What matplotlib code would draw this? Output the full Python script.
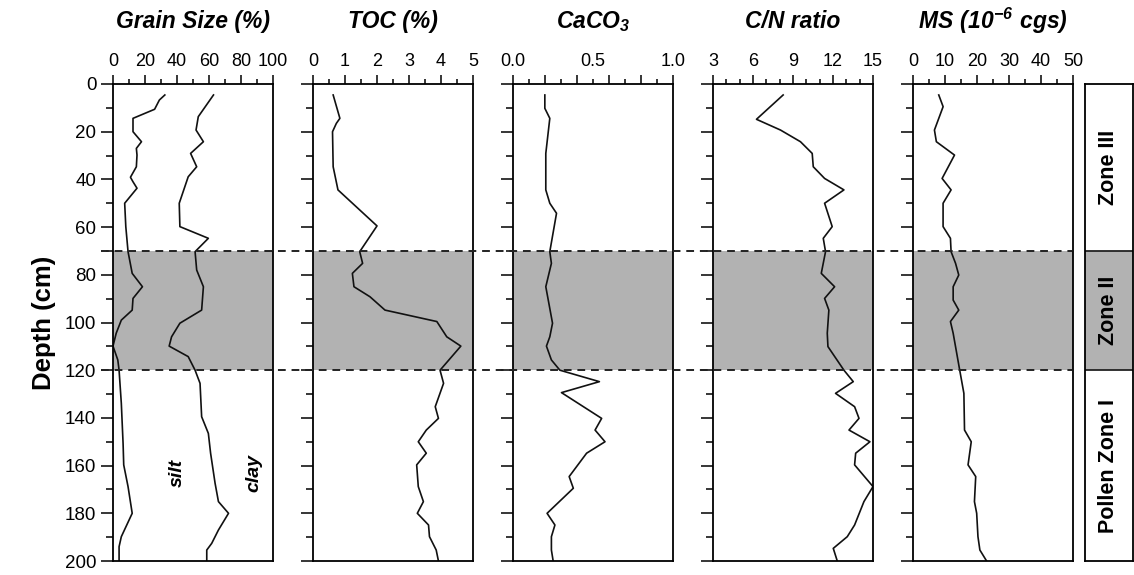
import matplotlib
matplotlib.use("Agg")
import matplotlib.pyplot as plt
import matplotlib.transforms as mtrans
from matplotlib.ticker import MultipleLocator, FixedLocator, FixedFormatter
from matplotlib.lines import Line2D
import numpy as np

plt.rcParams['font.family'] = ['Liberation Sans', 'DejaVu Sans']

# ---------------- data ----------------
silt_depth = [4.6, 6.7, 10.6, 14.4, 20, 24.2, 27, 29.8, 34.7, 39.1, 41, 43.7, 50, 59.8, 70.3,
              79.4, 85, 89.9, 94.8, 99, 104.5, 109.9, 115.7, 120, 133.9, 150.7, 159.7, 168.8,
              180, 189.8, 194, 200]
silt_val = [32.4, 29, 26, 12.5, 12.5, 17.8, 14.6, 15, 14.6, 10.9, 12.5, 15, 7.3, 8, 9.4,
            12, 18.4, 12.5, 12, 5.2, 2, 0, 3, 3.8, 5.2, 6.3, 6.7, 9.4,
            12, 5.2, 3.8, 3.8]

clay_depth = [4.6, 13.7, 19.3, 24.2, 29.1, 34.7, 38.9, 50, 59.8, 64.7, 70.3, 78, 85, 94.8,
              100.3, 106, 109.9, 114.3, 120, 125.5, 139.5, 146.5, 154.8, 167.4, 175.1, 180,
              187, 192.6, 195.4, 200]
clay_val = [62.8, 53.3, 51.9, 56.5, 48.5, 52.3, 47, 41.4, 41.8, 59.6, 51.3, 52.3, 56.5, 55.4,
            41.8, 36.6, 35.1, 47, 51.3, 54.4, 55.4, 59.6, 61, 63.8, 65.9, 72.2,
            65.9, 61.7, 58.6, 58.6]

toc_depth = [4.6, 14.4, 16.5, 20, 34.7, 44.4, 59.5, 70.3, 75.2, 79.4, 85, 89.2, 94.8, 99.6,
             106, 109.9, 120, 125.5, 135.3, 140.2, 145.1, 150, 154.8, 159.7, 168.8, 175.1,
             180, 184.9, 189.8, 195.4, 200]
toc_val = [0.63, 0.84, 0.73, 0.61, 0.63, 0.78, 2.0, 1.46, 1.55, 1.23, 1.28, 1.78, 2.25, 3.87,
           4.18, 4.62, 3.97, 4.08, 3.82, 3.92, 3.54, 3.29, 3.54, 3.24, 3.29, 3.45,
           3.26, 3.61, 3.64, 3.85, 3.92]

caco3_depth = [4.6, 10.2, 14.4, 29.1, 44.4, 50, 54.2, 70.3, 75.2, 85, 100.3, 106, 109.9, 115.7,
               120, 124.8, 129.4, 140.2, 145.1, 150, 154.8, 164.6, 169.5, 180, 184.9, 189.8,
               195.4, 200]
caco3_val = [0.199, 0.199, 0.23, 0.205, 0.205, 0.23, 0.272, 0.23, 0.24, 0.205, 0.247, 0.23,
             0.209, 0.24, 0.293, 0.54, 0.303, 0.554, 0.513, 0.575, 0.46, 0.351, 0.377, 0.213,
             0.262, 0.24, 0.24, 0.251]

cn_depth = [4.6, 14.8, 19.3, 24.2, 29.1, 34.7, 39.6, 44.4, 50, 59.8, 64.7, 70.3, 79.4, 85,
            89.9, 94.8, 104.5, 110.1, 120, 124.8, 129.7, 135.3, 140.2, 145.1, 150, 154.8,
            159.7, 168.8, 175.1, 184.9, 189.8, 194.7, 200]
cn_val = [8.26, 6.26, 8.06, 9.56, 10.44, 10.52, 11.37, 12.82, 11.37, 11.94, 11.27, 11.44,
          11.12, 12.12, 11.37, 11.69, 11.57, 11.62, 12.82, 13.52, 12.19, 13.62, 13.95, 13.2,
          14.77, 13.7, 13.62, 15.0, 14.32, 13.62, 13.07, 12.02, 12.32]

ms_depth = [4.6, 9.5, 19.3, 24.2, 29.8, 39.6, 44.4, 50, 59.8, 64.7, 70.3, 75.2, 80.1, 85, 90.6,
            94.8, 99.6, 104.5, 120, 129.7, 145.1, 150, 159.7, 164.6, 175.1, 180, 189.8,
            195.4, 200]
ms_val = [8.05, 9.41, 6.7, 7.3, 12.97, 9.1, 11.9, 9.4, 9.4, 11.7, 11.9, 13.3, 14.3, 12.55,
          12.55, 14.3, 11.7, 12.55, 14.6, 15.9, 16.1, 18.2, 17.2, 19.6, 19.2, 19.9, 20.3,
          20.9, 23]

titles = ["Grain Size (%)", "TOC (%)", r"$\mathregular{CaCO_3}$", "C/N ratio",
          r"$\mathregular{MS\ (10^{-6}\ cgs)}$"]
zone_bounds = [0, 70, 120, 200]
zone_names = ["Zone III", "Zone II", "Pollen Zone I"]
depth_ticks = list(range(0, 201, 20))

# ---------------- layout ----------------
W, H = 1134, 575
fig = plt.figure(figsize=(W / 100, H / 100), dpi=100)
top_px, bot_px = 84, 561
lefts_px = [113, 313, 513, 713, 913]
pw = 160
shade = '#b2b2b2'

def fr(x0, w):
    return [x0 / W, 1 - bot_px / H, w / W, (bot_px - top_px) / H]

xlims = [(0, 100), (0, 5), (0, 1.0), (3, 15), (0, 50)]
axes = []
for i, lp in enumerate(lefts_px):
    ax = fig.add_axes(fr(lp, pw))
    axes.append(ax)
    ax.set_xlim(*xlims[i])
    ax.set_ylim(200, 0)
    ax.axhspan(70, 120, color=shade, lw=0, zorder=0)
    for sp in ax.spines.values():
        sp.set_linewidth(1.3)
    ax.xaxis.tick_top()
    ax.yaxis.set_major_locator(FixedLocator(depth_ticks))
    ax.yaxis.set_minor_locator(MultipleLocator(10))
    ax.tick_params(axis='y', which='major', direction='out', length=9, width=1.1,
                   labelsize=13.5, left=True, right=False, pad=3)
    ax.tick_params(axis='y', which='minor', direction='out', length=5, width=1.1,
                   left=True, right=False)
    ax.tick_params(axis='x', which='major', direction='out', length=6.5, width=1.1,
                   labelsize=13, top=True, bottom=False, pad=3.5)
    ax.tick_params(axis='x', which='minor', direction='out', length=3.5, width=1.1,
                   labelsize=13, top=True, bottom=False, pad=6.5)
    if i > 0:
        ax.set_yticklabels([])
    ax.set_title(titles[i], fontsize=16.5, fontweight='bold', fontstyle='italic', pad=40)

# x tick settings
axes[0].xaxis.set_major_locator(MultipleLocator(20))
axes[0].xaxis.set_minor_locator(MultipleLocator(10))
axes[1].xaxis.set_major_locator(MultipleLocator(1))
axes[1].xaxis.set_minor_locator(MultipleLocator(0.5))
axes[2].xaxis.set_major_locator(FixedLocator([0, 0.2, 0.4, 0.6, 0.8, 1.0]))
axes[2].xaxis.set_major_formatter(FixedFormatter(['0.0', '', '', '', '', '1.0']))
axes[2].xaxis.set_minor_locator(FixedLocator([0.1, 0.3, 0.5, 0.7, 0.9]))
axes[2].xaxis.set_minor_formatter(FixedFormatter(['', '', '0.5', '', '']))
axes[3].xaxis.set_major_locator(MultipleLocator(3))
axes[3].xaxis.set_minor_locator(MultipleLocator(1))
axes[4].xaxis.set_major_locator(MultipleLocator(10))
axes[4].xaxis.set_minor_locator(MultipleLocator(5))

lc = dict(color='#111111', lw=1.2)
axes[0].plot(silt_val, silt_depth, **lc)
axes[0].plot(clay_val, clay_depth, **lc)
axes[1].plot(toc_val, toc_depth, **lc)
axes[2].plot(caco3_val, caco3_depth, **lc)
axes[3].plot(cn_val, cn_depth, **lc)
axes[4].plot(ms_val, ms_depth, **lc)

axes[0].text(40, 163, "silt", rotation=90, fontsize=14, fontweight='bold',
             fontstyle='italic', ha='center', va='center')
axes[0].text(88, 163, "clay", rotation=90, fontsize=14, fontweight='bold',
             fontstyle='italic', ha='center', va='center')

axes[0].set_ylabel("Depth (cm)", fontsize=18.5, fontweight='bold', labelpad=6)

# dashed boundaries across all panels
tr = mtrans.blended_transform_factory(fig.transFigure, axes[0].transData)
for d in (70, 120):
    fig.add_artist(Line2D([101 / W, 1072 / W], [d, d], transform=tr, color='#222222',
                          lw=1.4, ls=(0, (4, 3)), zorder=5))

# zone column
zax = fig.add_axes(fr(1085, 48))
zax.set_xlim(0, 1)
zax.set_ylim(200, 0)
zax.set_xticks([])
zax.set_yticks([])
for sp in zax.spines.values():
    sp.set_linewidth(1.3)
zax.axhspan(70, 120, color=shade, lw=0, zorder=0)
for d in (70, 120):
    zax.axhline(d, color='#222222', lw=1.3)
for j, name in enumerate(zone_names):
    mid = (zone_bounds[j] + zone_bounds[j + 1]) / 2
    zax.text(0.5, mid, name, rotation=90, fontsize=15.5, fontweight='bold',
             ha='center', va='center')

fig.savefig("out.png", dpi=100)
